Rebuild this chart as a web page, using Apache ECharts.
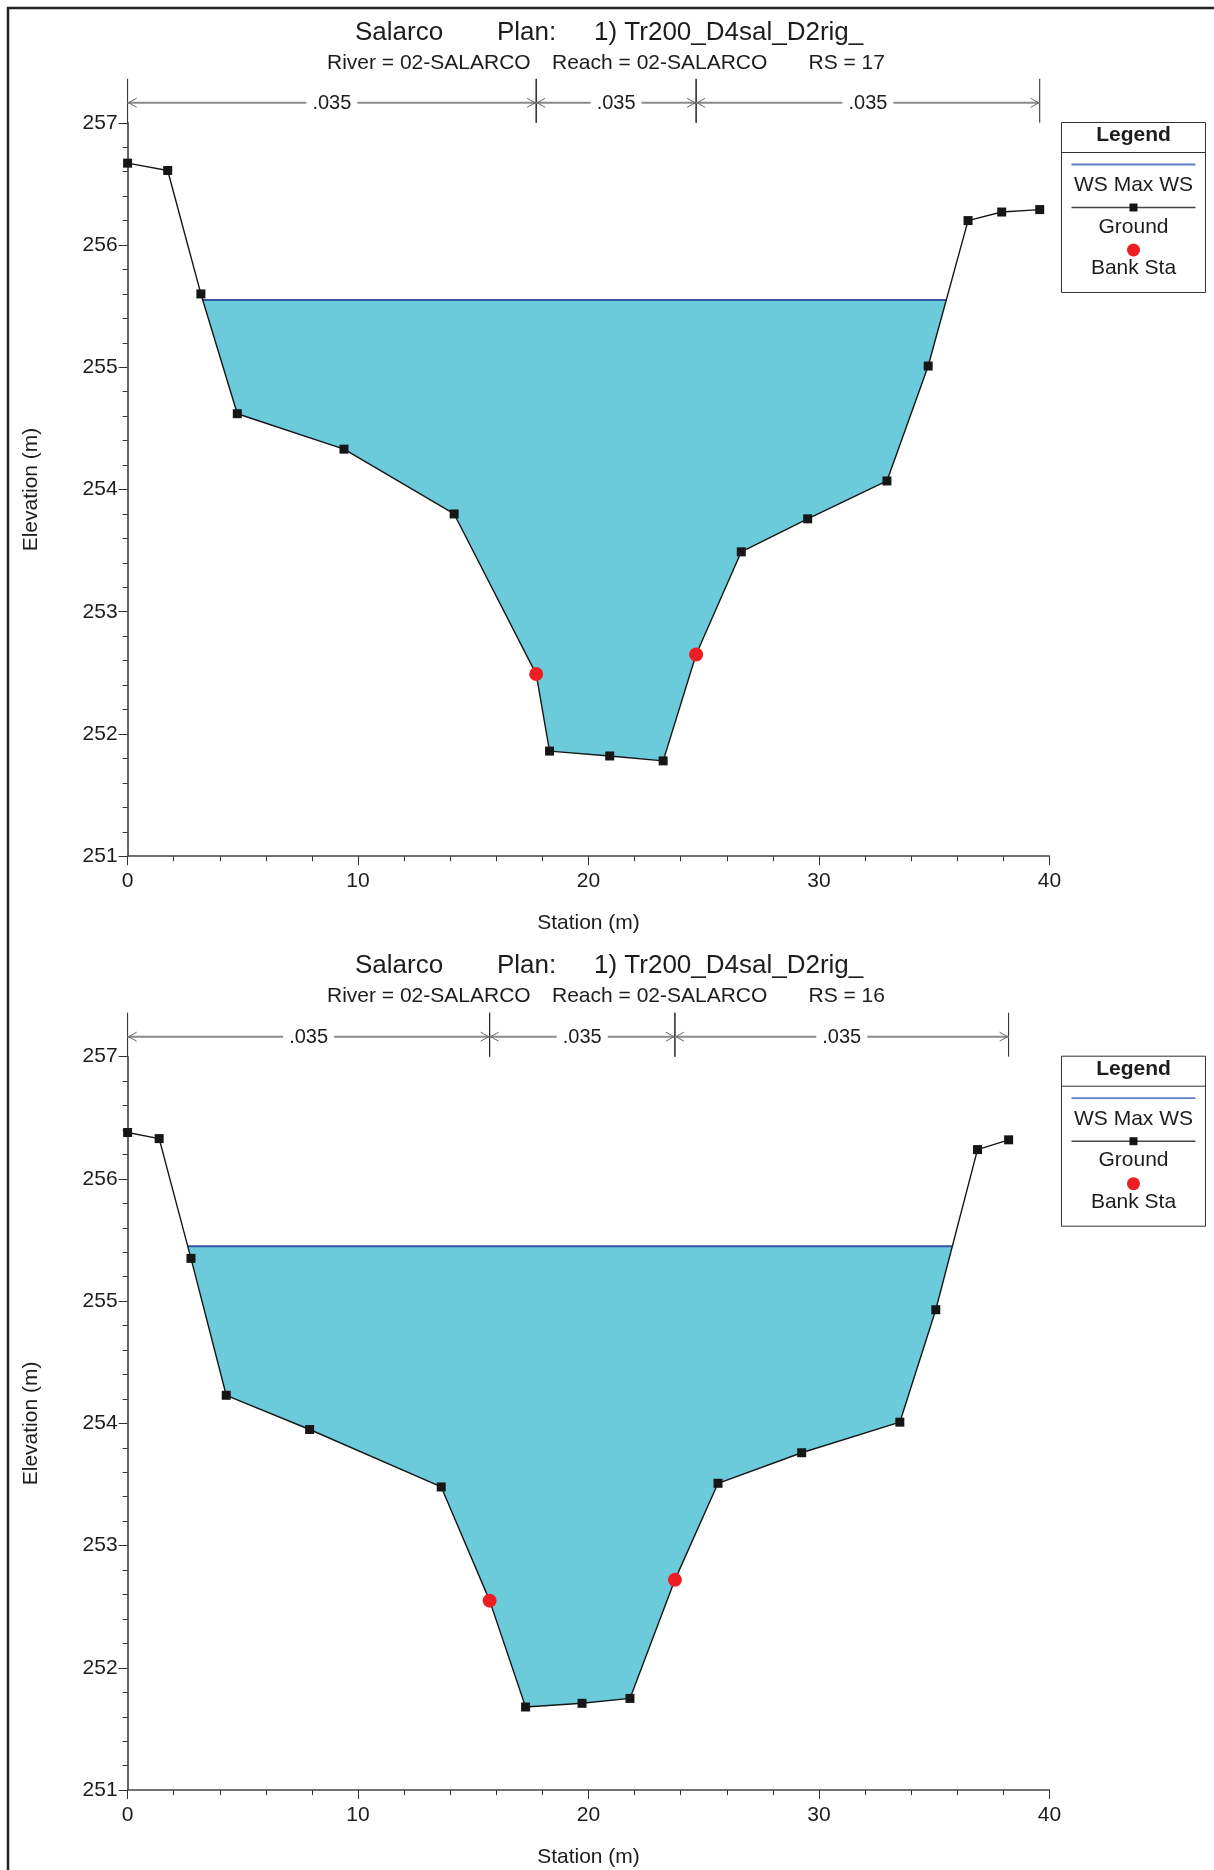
<!DOCTYPE html>
<html><head><meta charset="utf-8">
<script src="https://cdn.jsdelivr.net/npm/echarts@6/dist/echarts.min.js"></script>
<style>html,body{margin:0;padding:0;background:#fff}#c{width:1214px;height:1870px}</style>
</head><body><div id="c"></div>
<script>
// ---------------- data ----------------
// RS 17
const station17 = [0, 1.74, 3.18, 4.76, 9.39, 14.17, 17.73, 18.31, 20.92, 23.24, 24.67, 26.63, 29.51, 32.95, 34.74, 36.47, 37.93, 39.58];
const elev17    = [256.67, 256.61, 255.60, 254.62, 254.33, 253.80, 252.49, 251.86, 251.82, 251.78, 252.65, 253.49, 253.76, 254.07, 255.01, 256.20, 256.27, 256.29];
const bankSta17  = [17.73, 24.67];
const bankElev17 = [252.49, 252.65];
const ws17 = 255.55;
const nBounds17 = [0, 17.73, 24.67, 39.58];
const nValues17 = ['.035', '.035', '.035'];
// RS 16
const station16 = [0, 1.37, 2.75, 4.28, 7.90, 13.61, 15.71, 17.27, 19.72, 21.80, 23.75, 25.62, 29.25, 33.51, 35.07, 36.88, 38.23];
const elev16    = [256.38, 256.33, 255.35, 254.23, 253.95, 253.48, 252.55, 251.68, 251.71, 251.75, 252.72, 253.51, 253.76, 254.01, 254.93, 256.24, 256.32];
const bankSta16  = [15.71, 23.75];
const bankElev16 = [252.55, 252.72];
const ws16 = 255.45;
const nBounds16 = [0, 15.71, 23.75, 38.23];
const nValues16 = ['.035', '.035', '.035'];
// axes
const xMin = 0, xMax = 40, xInterval = 10;
const yMin = 251, yMax = 257, yInterval = 1;
// texts
const projectName = 'Salarco';
const planLabel = 'Plan:';
const planName = '1) Tr200_D4sal_D2rig_';
const riverText = 'River = 02-SALARCO';
const reachText = 'Reach = 02-SALARCO';
const rsTexts = ['RS = 17', 'RS = 16'];
const legendItems = ['WS Max WS', 'Ground', 'Bank Sta'];

// ---------------- styles ----------------
const FONT = '"Liberation Sans", Arial, Helvetica, sans-serif';
const TXT = '#1e1b1c';
const WATER = '#6ccbdb';
const WSLINE = '#3555aa';
const GROUND = '#161616';
const BANK = '#ee1d23';

const chart = echarts.init(document.getElementById('c'), null, {renderer: 'canvas'});

const gridTops = [122.8, 1056.7];
const GRID_H = 733.4, GRID_L = 127.6, GRID_W = 921.8;

function waterRender(st, el) {
  return function (params, api) {
    const ws = api.value(0);
    const pts = [];
    for (let i = 0; i < st.length; i++) {
      if (el[i] <= ws) pts.push([st[i], el[i]]);
      if (i < st.length - 1 && (el[i] - ws) * (el[i + 1] - ws) < 0) {
        const t = (ws - el[i]) / (el[i + 1] - el[i]);
        pts.push([st[i] + t * (st[i + 1] - st[i]), ws]);
      }
    }
    const px = pts.map(p => api.coord(p));
    const a = px[0], b = px[px.length - 1];
    return {
      type: 'group',
      children: [
        {type: 'polygon', shape: {points: px}, style: {fill: WATER, stroke: null}},
        {type: 'line', shape: {x1: a[0], y1: a[1], x2: b[0], y2: b[1]}, style: {stroke: WSLINE, lineWidth: 2}}
      ]
    };
  };
}

function nRender(labels) {
  return function (params, api) {
    const p1 = api.coord([api.value(0), api.value(2)]);
    const p2 = api.coord([api.value(1), api.value(2)]);
    const yBase = p1[1];
    const yTop = yBase - 44, yL = yBase - 20;
    const cx = (p1[0] + p2[0]) / 2, gap = 25.5;
    const gray = '#8a8a8a';
    const ch = [];
    ch.push({type: 'line', shape: {x1: p1[0], y1: yTop, x2: p1[0], y2: yBase}, style: {stroke: '#222', lineWidth: 1}});
    ch.push({type: 'line', shape: {x1: p2[0], y1: yTop, x2: p2[0], y2: yBase}, style: {stroke: '#222', lineWidth: 1}});
    ch.push({type: 'line', shape: {x1: p1[0], y1: yL, x2: cx - gap, y2: yL}, style: {stroke: gray, lineWidth: 2}});
    ch.push({type: 'line', shape: {x1: cx + gap, y1: yL, x2: p2[0], y2: yL}, style: {stroke: gray, lineWidth: 2}});
    ch.push({type: 'polyline', shape: {points: [[p1[0] + 9, yL - 4.5], [p1[0] + 1, yL], [p1[0] + 9, yL + 4.5]]}, style: {stroke: '#666', lineWidth: 1, fill: null}});
    ch.push({type: 'polyline', shape: {points: [[p2[0] - 9, yL - 4.5], [p2[0] - 1, yL], [p2[0] - 9, yL + 4.5]]}, style: {stroke: '#666', lineWidth: 1, fill: null}});
    ch.push({type: 'text', style: {text: labels[params.dataIndex], x: cx, y: yL + 1, font: '20px ' + FONT, fill: TXT,
      align: 'center', verticalAlign: 'middle', textAlign: 'center', textVerticalAlign: 'middle'}});
    return {type: 'group', children: ch};
  };
}

function axisCommonX(gi) {
  return {
    type: 'value', gridIndex: gi, min: xMin, max: xMax, interval: xInterval,
    name: 'Station (m)', nameLocation: 'middle', nameGap: 57,
    nameTextStyle: {fontSize: 21, color: TXT, fontFamily: FONT},
    axisLine: {show: true, onZero: false, lineStyle: {color: '#444', width: 1.5}},
    axisTick: {show: true, inside: false, length: 9, lineStyle: {color: '#333', width: 1}},
    minorTick: {show: true, splitNumber: 5, length: 5, lineStyle: {color: '#333', width: 1}},
    axisLabel: {fontSize: 21, color: TXT, fontFamily: FONT, margin: 15},
    splitLine: {show: false}, minorSplitLine: {show: false}
  };
}
function axisCommonY(gi) {
  return {
    type: 'value', gridIndex: gi, min: yMin, max: yMax, interval: yInterval,
    name: 'Elevation (m)', nameLocation: 'middle', nameGap: 86,
    nameTextStyle: {fontSize: 21, color: TXT, fontFamily: FONT},
    axisLine: {show: true, onZero: false, lineStyle: {color: '#333', width: 1.5}},
    axisTick: {show: true, inside: false, length: 9, lineStyle: {color: '#333', width: 1}},
    minorTick: {show: true, splitNumber: 5, length: 5, lineStyle: {color: '#333', width: 1}},
    axisLabel: {fontSize: 21, color: TXT, fontFamily: FONT, margin: 10},
    splitLine: {show: false}, minorSplitLine: {show: false}
  };
}

const sections = [
  {st: station17, el: elev17, bs: bankSta17, be: bankElev17, ws: ws17, nb: nBounds17, nv: nValues17},
  {st: station16, el: elev16, bs: bankSta16, be: bankElev16, ws: ws16, nb: nBounds16, nv: nValues16}
];

const series = [];
sections.forEach((s, gi) => {
  series.push({
    type: 'custom', xAxisIndex: gi, yAxisIndex: gi, clip: false, z: 1, silent: true,
    renderItem: waterRender(s.st, s.el), data: [[s.ws]], encode: {y: 0}
  });
  series.push({
    type: 'custom', xAxisIndex: gi, yAxisIndex: gi, clip: false, z: 2, silent: true,
    renderItem: nRender(s.nv),
    data: s.nv.map((v, i) => [s.nb[i], s.nb[i + 1], yMax]),
    encode: {x: [0, 1], y: 2}
  });
  series.push({
    type: 'line', xAxisIndex: gi, yAxisIndex: gi, z: 3, silent: true,
    data: s.st.map((x, i) => [x, s.el[i]]),
    symbol: 'rect', symbolSize: 9, showAllSymbol: true,
    lineStyle: {color: GROUND, width: 1.4}, itemStyle: {color: GROUND, opacity: 1},
    emphasis: {disabled: true}
  });
  series.push({
    type: 'scatter', xAxisIndex: gi, yAxisIndex: gi, z: 4, silent: true,
    data: s.bs.map((x, i) => [x, s.be[i]]),
    symbol: 'circle', symbolSize: 14, itemStyle: {color: BANK, opacity: 1, borderWidth: 0},
    emphasis: {disabled: true}
  });
});

function txt(text, x, y, size, opts) {
  opts = opts || {};
  const al = opts.align || 'left';
  return {type: 'text', z: 10, style: {text: text, x: x, y: y,
    font: (opts.bold ? 'bold ' : '') + size + 'px ' + FONT, fill: TXT,
    align: al, textAlign: al, verticalAlign: 'middle', textVerticalAlign: 'middle'}};
}

const graphics = [];
// page frame
graphics.push({type: 'line', z: 10, shape: {x1: 7, y1: 8, x2: 1214, y2: 8}, style: {stroke: '#222', lineWidth: 2.5}});
graphics.push({type: 'line', z: 10, shape: {x1: 8, y1: 7, x2: 8, y2: 1870}, style: {stroke: '#222', lineWidth: 2.5}});

[0, 933.7].forEach((dy, k) => {
  // titles
  graphics.push(txt(projectName, 355, 32.5 + dy, 26));
  graphics.push(txt(planLabel, 497, 32.5 + dy, 26));
  graphics.push(txt(planName, 594, 32.5 + dy, 26));
  graphics.push(txt(riverText, 327, 63 + dy, 21));
  graphics.push(txt(reachText, 552, 63 + dy, 21));
  graphics.push(txt(rsTexts[k], 808.5, 63 + dy, 21));
  // legend box
  const lx = 1061.5, ly = 122.5 + dy, lw = 144, lh = 170, cx = lx + lw / 2;
  graphics.push({type: 'rect', z: 10, shape: {x: lx, y: ly, width: lw, height: lh}, style: {fill: '#fff', stroke: '#333', lineWidth: 1}});
  graphics.push({type: 'line', z: 10, shape: {x1: lx, y1: ly + 30, x2: lx + lw, y2: ly + 30}, style: {stroke: '#333', lineWidth: 1}});
  graphics.push(txt('Legend', cx, ly + 13, 21, {bold: true, align: 'center'}));
  graphics.push({type: 'line', z: 10, shape: {x1: lx + 10, y1: ly + 42, x2: lx + lw - 10, y2: ly + 42}, style: {stroke: '#5f80c8', lineWidth: 1.8}});
  graphics.push(txt(legendItems[0], cx, ly + 63, 21, {align: 'center'}));
  graphics.push({type: 'line', z: 10, shape: {x1: lx + 10, y1: ly + 85, x2: lx + lw - 10, y2: ly + 85}, style: {stroke: '#444', lineWidth: 1.4}});
  graphics.push({type: 'rect', z: 11, shape: {x: cx - 4, y: ly + 81, width: 8, height: 8}, style: {fill: GROUND}});
  graphics.push(txt(legendItems[1], cx, ly + 104.5, 21, {align: 'center'}));
  graphics.push({type: 'circle', z: 11, shape: {cx: cx, cy: ly + 127.5, r: 6.5}, style: {fill: BANK}});
  graphics.push(txt(legendItems[2], cx, ly + 146, 21, {align: 'center'}));
});

chart.setOption({
  animation: false,
  backgroundColor: '#fff',
  textStyle: {fontFamily: FONT},
  grid: gridTops.map(t => ({left: GRID_L, top: t, width: GRID_W, height: GRID_H, containLabel: false})),
  xAxis: [axisCommonX(0), axisCommonX(1)],
  yAxis: [axisCommonY(0), axisCommonY(1)],
  series: series,
  graphic: graphics
});
</script></body></html>
